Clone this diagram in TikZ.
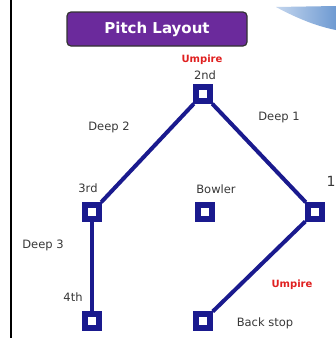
\documentclass[tikz,border=0pt]{standalone}
\usepackage{fontspec}
\setmainfont{DejaVu Sans}
\begin{document}
\begin{tikzpicture}[x=1pt,y=-1pt,
  base/.style={draw=navy,line width=5.5pt,fill=white,minimum size=14pt,inner sep=0pt},
  lbl/.style={font=\fontsize{11.5}{13}\selectfont,text=black!78,inner sep=1pt},
  ump/.style={font=\bfseries\fontsize{10}{12}\selectfont,text=umpred,inner sep=1pt},
  conn/.style={draw=navy,line width=4pt}]
\definecolor{navy}{HTML}{1A1A8E}
\definecolor{umpred}{HTML}{E02020}
\definecolor{titlepurple}{HTML}{6B2A9C}
\definecolor{swooshA}{HTML}{C4D6EE}
\definecolor{swooshB}{HTML}{6E9AD2}
\useasboundingbox (0,0) rectangle (336,343);
\fill[white] (0,0) rectangle (336,343);
% swoosh top right
\shade[left color=swooshA,right color=swooshB] (276,7) .. controls (300,20) and (320,27) .. (336,30) -- (336,6) -- cycle;
% left border
\draw[line width=1.5pt] (11,0) -- (11,338);
% title
\node[draw=black!80,line width=1.2pt,fill=titlepurple,rounded corners=4pt,
  minimum width=180pt,minimum height=34pt,text=white,
  font=\bfseries\fontsize{15}{17}\selectfont] (title) at (157,29) {Pitch Layout};
% bases
\node[base] (second) at (203,94) {};
\node[base] (third) at (92,212) {};
\node[base] (bowler) at (205,212) {};
\node[base] (first) at (315,212) {};
\node[base] (fourth) at (92,321) {};
\node[base] (back) at (203,321) {};
% connectors
\draw[conn] (second) -- (third);
\draw[conn] (second) -- (first);
\draw[conn] (third) -- (fourth);
\draw[conn] (first) -- (back);
% redraw bases on top
\node[base] at (second) {};
\node[base] at (third) {};
\node[base] at (first) {};
\node[base] at (fourth) {};
\node[base] at (back) {};
% labels
\node[ump] (u1) at (202,60) {Umpire};
\node[lbl] (l2) at (205,75) {2nd};
\node[lbl] (d2) at (109,127) {Deep 2};
\node[lbl] (d1) at (279,118) {Deep 1};
\node[lbl] (l3) at (88,188) {3rd};
\node[lbl] (lb) at (216,189) {Bowler};
\node[font=\fontsize{14}{16}\selectfont,text=black!78,inner sep=1pt] (l1) at (331,181) {1};
\node[lbl] (d3) at (43,245) {Deep 3};
\node[lbl] (l4) at (73,297) {4th};
\node[ump] (u2) at (292,285) {Umpire};
\node[lbl] (lbs) at (265,323) {Back stop};
\end{tikzpicture}
\end{document}
